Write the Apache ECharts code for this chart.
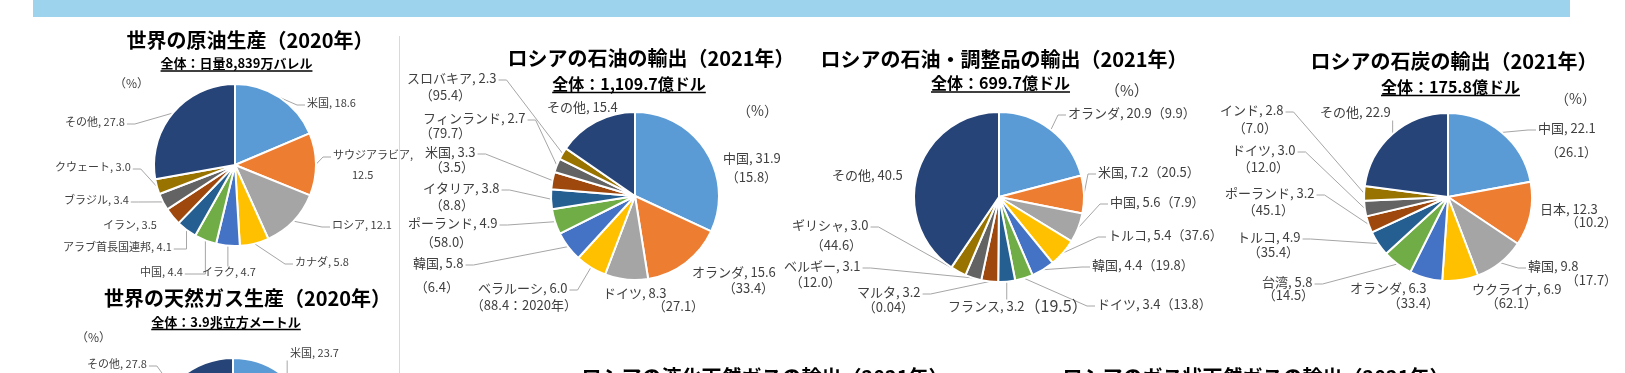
<!DOCTYPE html>
<html><head><meta charset="utf-8">
<script src="https://cdn.jsdelivr.net/npm/echarts@6/dist/echarts.min.js"></script>
<style>html,body{margin:0;padding:0;background:#fff}#c{width:1625px;height:373px}</style>
</head><body><div id="c"></div>
<script>
const FONT = '"Noto Sans CJK JP", "Noto Sans CJK SC", sans-serif';
const TXT = '#404040';
const COLORS = ['#5b9bd5','#ed7d31','#a5a5a5','#ffc000','#4472c4','#70ad47','#255e91','#9e480e','#636363','#997300','#264478'];

// ---- data ----
const crudeNames = ['米国','サウジアラビア','ロシア','カナダ','イラク','中国','アラブ首長国連邦','イラン','ブラジル','クウェート','その他'];
const crudeShares = [18.6,12.5,12.1,5.8,4.7,4.4,4.1,3.5,3.4,3.0,27.8];

const gasNames = ['米国','ロシア','イラン','中国','カタール','カナダ','オーストラリア','サウジアラビア','ノルウェー','アルジェリア','その他'];
const gasShares = [23.7,16.6,6.5,5.2,4.4,4.3,3.7,2.9,2.9,2.1,27.8];

const oilNames = ['中国','オランダ','ドイツ','ベラルーシ','韓国','ポーランド','イタリア','米国','フィンランド','スロバキア','その他'];
const oilShares = [31.9,15.6,8.3,6.0,5.8,4.9,3.8,3.3,2.7,2.3,15.4];
const oilRussiaShare = ['15.8','33.4','27.1','88.4：2020年','6.4','58.0','8.8','3.5','79.7','95.4',null];

const productNames = ['オランダ','米国','中国','トルコ','韓国','ドイツ','フランス','マルタ','ベルギー','ギリシャ','その他'];
const productShares = [20.9,7.2,5.6,5.4,4.4,3.4,3.2,3.2,3.1,3.0,40.5];
const productRussiaShare = ['9.9','20.5','7.9','37.6','19.8','13.8','19.5','0.04','12.0','44.6',null];

const coalNames = ['中国','日本','韓国','ウクライナ','オランダ','台湾','トルコ','ポーランド','ドイツ','インド','その他'];
const coalShares = [22.1,12.3,9.8,6.9,6.3,5.8,4.9,3.2,3.0,2.8,22.9];
const coalRussiaShare = ['26.1','10.2','17.7','62.1','33.4','14.5','35.4','45.1','12.0','7.0',null];

// ---- label placement (layout only) ----
const crudeLabelPos = [
  {x:307,y:103},
  {x:333,y:155,x2:352,y2:175,brk:'val'},
  {x:332,y:225},
  {x:295,y:262},
  {x:202,y:272,line:'top'},
  {x:140,y:272,line:'vert'},
  {x:63,y:247,line:'vert'},
  {x:103,y:225,line:'none'},
  {x:64,y:200},
  {x:55,y:167},
  {x:65,y:122}
];
const gasLabelPos = [{x:290,y:353,line:'bottom'},null,null,null,null,null,null,null,null,null,{x:87,y:364}];
const oilLabelPos = [
  {x:723,y:158,x2:733,y2:177,line:'none'},
  {x:692,y:272,x2:730,y2:288,line:'none'},
  {x:603,y:293,x2:660,y2:306,line:'none'},
  {x:478,y:288,x2:478,y2:305},
  {x:413,y:263,x2:422,y2:287},
  {x:408,y:223,x2:428,y2:242},
  {x:423,y:188,x2:437,y2:205},
  {x:425,y:152,x2:437,y2:167},
  {x:423,y:118,x2:427,y2:133},
  {x:407,y:78,x2:427,y2:95},
  {x:547,y:107,line:'none'}
];
const productLabelPos = [
  {x:1068,y:113},
  {x:1098,y:172},
  {x:1110,y:202},
  {x:1108,y:235},
  {x:1092,y:265},
  {x:1097,y:304},
  {x:948,y:306,line:'top',bigParen:16},
  {x:857,y:292,x2:870,y2:307},
  {x:784,y:266,x2:797,y2:282},
  {x:792,y:225,x2:818,y2:245},
  {x:832,y:175,line:'none'}
];
const coalLabelPos = [
  {x:1538,y:128,x2:1553,y2:152},
  {x:1540,y:209,x2:1573,y2:222,line:'none'},
  {x:1528,y:266,x2:1573,y2:280},
  {x:1472,y:289,x2:1493,y2:303,line:'none'},
  {x:1350,y:288,x2:1395,y2:303,line:'none'},
  {x:1262,y:282,x2:1270,y2:295},
  {x:1237,y:237,x2:1255,y2:252},
  {x:1225,y:193,x2:1250,y2:210},
  {x:1232,y:150,x2:1245,y2:167},
  {x:1220,y:110,x2:1240,y2:128},
  {x:1320,y:112,line:'bottom'}
];

function measure(text, fs, bold) {
  const ctx = measure.ctx || (measure.ctx = document.createElement('canvas').getContext('2d'));
  ctx.font = (bold ? 'bold ' : '') + fs + 'px ' + FONT;
  return ctx.measureText(text).width;
}

function buildPie(cfg) {
  const { names, values, paren, pos, center, radius, fs } = cfg;
  const lh = fs + 4;
  const total = values.reduce((a, b) => a + b, 0);
  const geo = [];
  let cum = 0;
  const data = names.map((name, i) => {
    const v = values[i];
    const p = pos[i];
    const mid = (cum + v / 2) / total; cum += v;
    const item = { name, value: v, itemStyle: { color: COLORS[i % COLORS.length] } };
    if (!p) { item.label = { show: false }; item.labelLine = { show: false }; geo.push(null); return item; }
    const vs = v.toFixed(1);
    const pr = paren && paren[i] != null ? '（' + paren[i] + '）' : '';
    let l1, l2 = null, fmt;
    if (p.brk === 'val') { l1 = name + ','; l2 = vs; }
    else if (p.x2 != null) { l1 = name + ', ' + vs; l2 = pr; }
    else if (p.bigParen) { l1 = name + ', ' + vs; fmt = '{a|' + l1 + '}{c|' + pr + '}'; }
    else { l1 = name + ', ' + vs + pr; }
    const bx1 = p.x;
    let base = bx1, padA = 0, padB = 0, lb = lh;
    if (l2 != null) {
      const bx2 = p.x2 - (l2.charAt(0) === '（' ? 0.55 * fs : 0);
      base = Math.min(bx1, bx2); padA = bx1 - base; padB = bx2 - base;
      lb = Math.max(2, 2 * (p.y2 - p.y) - lh);
    }
    item.label = {
      show: true,
      formatter: fmt || ('{a|' + l1 + '}' + (l2 != null ? '\n{b|' + l2 + '}' : '')),
      rich: {
        a: { fontSize: fs, lineHeight: lh, color: TXT, fontFamily: FONT, padding: [0, 0, 0, padA] },
        b: { fontSize: fs, lineHeight: lb, color: TXT, fontFamily: FONT, padding: [0, 0, 0, padB] },
        c: { fontSize: p.bigParen || fs, lineHeight: lh, color: TXT, fontFamily: FONT }
      }
    };
    if (p.line === 'none') item.labelLine = { show: false };
    geo.push({ base, top: p.y - lh / 2, bottom: p.y + lh / 2, x1: bx1, w1: measure(l1, fs), y1: p.y, line: p.line || 'side', mid });
    return item;
  });
  const labelLayout = function (params) {
    const g = geo[params.dataIndex];
    if (!g) return {};
    const res = { x: g.base, y: g.top, align: 'left', verticalAlign: 'top' };
    if (g.line === 'none') return res;
    let e = params.labelLinePoints && params.labelLinePoints[0];
    if (!e) { const a = g.mid * 2 * Math.PI; e = [center[0] + radius * Math.sin(a), center[1] - radius * Math.cos(a)]; }
    e = [e[0], e[1]];
    if (g.line === 'top') {
      res.labelLinePoints = [e, [e[0], g.top + 2], [e[0], g.top + 2]];
    } else if (g.line === 'bottom') {
      res.labelLinePoints = [e, [e[0], g.bottom], [e[0], g.bottom]];
    } else {
      const leftSide = g.x1 + g.w1 / 2 < center[0];
      const ax = leftSide ? g.x1 + g.w1 + 2 : g.x1 - 2;
      const ay = g.y1 + 2;
      const ex = g.line === 'vert' ? e[0] : ax + (leftSide ? 8 : -8);
      res.labelLinePoints = [e, [ex, ay], [ax, ay]];
    }
    return res;
  };
  return {
    type: 'pie', center, radius, startAngle: 90, clockwise: true,
    avoidLabelOverlap: false, silent: true, animation: false,
    itemStyle: { borderColor: '#ffffff', borderWidth: 2 },
    label: { show: true, position: 'outside', color: TXT, fontFamily: FONT, fontSize: fs },
    labelLine: { show: true, length: 6, length2: 6, lineStyle: { color: '#a6a6a6', width: 1 } },
    labelLayout,
    data
  };
}

function txt(text, x, y, fs, bold, align, color) {
  return { type: 'text', x, y, silent: true,
    style: { text, font: (bold ? 'bold ' : '') + fs + 'px ' + FONT, fill: color || '#000',
      align: align || 'center', textAlign: align || 'center', verticalAlign: 'middle', textVerticalAlign: 'middle' } };
}
function subtitle(text, cx, cy, fs) {
  const w = measure(text, fs, true);
  const uy = cy + fs * 0.5 + 1;
  return [txt(text, cx, cy, fs, true),
    { type: 'line', silent: true, shape: { x1: cx - w / 2, y1: uy, x2: cx + w / 2, y2: uy }, style: { stroke: '#000', lineWidth: 1.3 } }];
}

const graphic = [
  { type: 'rect', silent: true, shape: { x: 33, y: 0, width: 1537, height: 17 }, style: { fill: '#9dd3ec' } },
  { type: 'line', silent: true, shape: { x1: 399.5, y1: 36, x2: 399.5, y2: 373 }, style: { stroke: '#d9d9d9', lineWidth: 1 } },
  txt('世界の原油生産（2020年）', 250, 40, 20, true),
  ...subtitle('全体：日量8,839万バレル', 236.5, 63.5, 13),
  txt('（%）', 114, 83.5, 12, false, 'left', TXT),
  txt('世界の天然ガス生産（2020年）', 247.5, 298, 20, true),
  ...subtitle('全体：3.9兆立方メートル', 226, 322, 13),
  txt('（%）', 76, 337, 12, false, 'left', TXT),
  txt('ロシアの石油の輸出（2021年）', 651, 58.5, 20, true),
  ...subtitle('全体：1,109.7億ドル', 629, 83.5, 16),
  txt('（%）', 737, 111, 14, false, 'left', TXT),
  txt('ロシアの石油・調整品の輸出（2021年）', 1004, 59, 20, true),
  ...subtitle('全体：699.7億ドル', 1000.5, 83, 16),
  txt('（%）', 1105, 90.5, 15, false, 'left', TXT),
  txt('ロシアの石炭の輸出（2021年）', 1454, 61, 20, true),
  ...subtitle('全体：175.8億ドル', 1450.5, 86.5, 16),
  txt('（%）', 1555, 98.5, 14, false, 'left', TXT),
  txt('ロシアの液化天然ガスの輸出（2021年）', 765, 377, 20, true),
  txt('ロシアのガス状天然ガスの輸出（2021年）', 1256, 377, 20, true)
];

const chart = echarts.init(document.getElementById('c'), null, { renderer: 'canvas' });
chart.setOption({
  animation: false,
  backgroundColor: '#ffffff',
  textStyle: { fontFamily: FONT },
  graphic,
  series: [
    buildPie({ names: crudeNames, values: crudeShares, paren: null, pos: crudeLabelPos, center: [235, 165], radius: 81, fs: 11 }),
    buildPie({ names: gasNames, values: gasShares, paren: null, pos: gasLabelPos, center: [233, 438], radius: 80, fs: 11 }),
    buildPie({ names: oilNames, values: oilShares, paren: oilRussiaShare, pos: oilLabelPos, center: [635, 196], radius: 84, fs: 13 }),
    buildPie({ names: productNames, values: productShares, paren: productRussiaShare, pos: productLabelPos, center: [999, 197], radius: 85, fs: 13 }),
    buildPie({ names: coalNames, values: coalShares, paren: coalRussiaShare, pos: coalLabelPos, center: [1448, 197], radius: 84, fs: 13 })
  ]
});
</script></body></html>
